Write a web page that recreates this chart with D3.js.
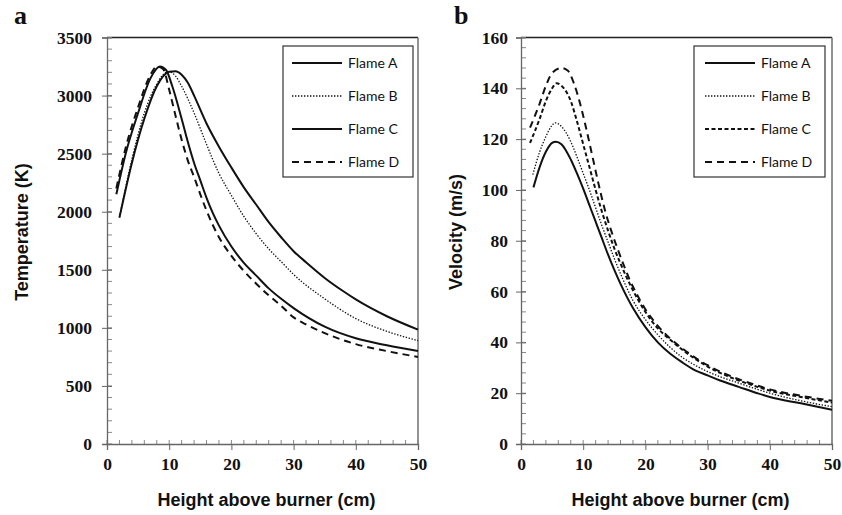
<!DOCTYPE html>
<html>
<head>
<meta charset="utf-8">
<script src="https://cdn.jsdelivr.net/npm/d3@7"></script>
<style>
  body { margin: 0; background: #fff; }
  .tick text { font-family: "Liberation Serif", "Times New Roman", serif; font-weight: bold; font-size: 17.5px; fill: #111; }
  .title { font-family: "Liberation Sans", Arial, sans-serif; font-weight: bold; font-size: 18px; fill: #111; }
  .legend text { font-family: Lato, "Open Sans", sans-serif; font-size: 14px; fill: #111; }
</style>
</head>
<body>
<script>
// Temperature panel (a)
var tempA = [[2,1950],[4,2420],[6,2800],[8,3080],[10,3205],[11,3210],[12,3180],[13,3110],[14,3000],[16,2760],[18,2560],[20,2380],[22,2210],[24,2060],[26,1910],[28,1780],[30,1660],[32,1565],[35,1430],[38,1315],[40,1245],[45,1100],[50,985]];
var tempB = [[2,1950],[4,2450],[6,2850],[8,3100],[9.5,3200],[10,3205],[11,3170],[12,3080],[14,2850],[16,2580],[18,2330],[20,2140],[22,1960],[24,1810],[26,1680],[28,1570],[30,1460],[35,1250],[40,1080],[45,970],[50,890]];
var tempC = [[1.5,2150],[3,2500],[5,2850],[7,3150],[8.5,3250],[9.5,3220],[10.5,3080],[12,2800],[13,2600],[14,2420],[15,2270],[16,2120],[17,1990],[18,1880],[20,1700],[22,1560],[24,1450],[26,1340],[28,1250],[30,1170],[35,1010],[40,910],[45,850],[50,800]];
var tempD = [[1.5,2200],[3,2550],[5,2900],[7,3180],[8,3250],[9,3230],[10,3050],[11,2830],[12,2620],[13,2440],[14,2300],[15,2150],[16,2010],[18,1780],[20,1620],[22,1490],[24,1380],[26,1280],[28,1190],[30,1090],[32,1030],[35,955],[40,860],[45,800],[50,750]];

// Velocity panel (b)
var velA = [[2,101],[3,109],[4,115],[5,118.5],[5.6,119],[6.5,118],[8,112],[9,106.5],[10,100.5],[11,94],[12,87.5],[13,81],[14,74.5],[15,68.5],[16,63],[17,58],[18,53.5],[20,46],[22,40],[24,35.5],[26,32],[28,29],[30,27],[32,25],[35,22.5],[38,20],[40,18.5],[45,16],[50,13.5]];
var velB = [[1.9,106],[3,115],[4,121],[5,125.5],[5.5,126.4],[6.5,125],[8,119],[9,113],[10,106.5],[11,100],[12,93],[13,86],[14,79.5],[15,73],[16,67],[17,61.5],[18,56.5],[20,49],[22,43],[24,38],[26,34],[28,31],[30,28.5],[32,26.5],[35,24],[38,21.5],[40,20],[45,17],[50,14.7]];
var velC = [[1.45,118.5],[3,128],[4,135],[5,140],[5.7,142],[6.5,141],[8,135],[9,127],[10,118],[11,109],[12,100],[13,91.5],[14,84],[15,77],[16,71],[17,65.5],[18,60.5],[20,52],[22,45.5],[24,41],[26,37],[28,33.5],[30,30.5],[32,28],[35,25],[38,22.5],[40,21],[45,18.5],[50,16.3]];
var velD = [[1.45,124.5],[3,134],[4,141],[5,146],[6.5,148],[7.5,147],[8.5,142],[9.5,134],[10.5,124],[11.5,113],[12.5,102],[13.5,92],[14.5,84],[15.5,77],[16.5,70.5],[17.5,64.5],[18.5,59.5],[20,53],[22,46.5],[24,41.5],[26,37.5],[28,34],[30,31],[32,28.5],[35,25.5],[38,23],[40,21.5],[45,19],[50,17]];

var flameNames = ["Flame A", "Flame B", "Flame C", "Flame D"];
var xTicks = [0, 10, 20, 30, 40, 50];
var tempTicks = [0, 500, 1000, 1500, 2000, 2500, 3000, 3500];
var velTicks = [0, 20, 40, 60, 80, 100, 120, 140, 160];

var styles = {
  solid: {dash: null, width: 2},
  dotted: {dash: "1.4,1.6", width: 1.3},
  short: {dash: "4,2.5", width: 2},
  long: {dash: "7,5", width: 2}
};

var width = 842, height = 515;
var svg = d3.select("body").append("svg")
  .attr("width", width)
  .attr("height", height);

function panel(opts) {
  var x = d3.scaleLinear().domain([0, 50]).range([opts.left, opts.right]);
  var y = d3.scaleLinear().domain([0, opts.yMax]).range([444, 37.5]);
  var g = svg.append("g");

  // frame (top + right)
  g.append("line").attr("x1", opts.left).attr("x2", opts.right)
    .attr("y1", y(opts.yMax)).attr("y2", y(opts.yMax))
    .attr("stroke", "#222").attr("stroke-width", 1.6);
  g.append("line").attr("x1", opts.right).attr("x2", opts.right)
    .attr("y1", y(opts.yMax)).attr("y2", y(0))
    .attr("stroke", "#777").attr("stroke-width", 1.6);

  // minor ticks (inside)
  var yMinor = d3.range(0, opts.yMax + 1e-9, opts.yMinor);
  g.selectAll(".ymin").data(yMinor).join("line")
    .attr("x1", opts.left).attr("x2", opts.left + 5)
    .attr("y1", d => y(d)).attr("y2", d => y(d))
    .attr("stroke", "#888").attr("stroke-width", 1);
  var xMinor = d3.range(0, 50.001, 2);
  g.selectAll(".xmin").data(xMinor).join("line")
    .attr("x1", d => x(d)).attr("x2", d => x(d))
    .attr("y1", y(0)).attr("y2", y(0) - 4)
    .attr("stroke", "#888").attr("stroke-width", 1);

  // axes
  var yAxis = g.append("g").attr("transform", "translate(" + opts.left + ",0)")
    .call(d3.axisLeft(y).tickValues(opts.yTicks).tickSize(5).tickPadding(opts.yPad).tickFormat(d3.format("d")));
  yAxis.selectAll(".tick line").attr("x2", -5).attr("x1", 5).attr("stroke", "#666");
  yAxis.select(".domain").attr("stroke", "#666").attr("stroke-width", 1.3);

  var xAxis = g.append("g").attr("transform", "translate(0," + y(0) + ")")
    .call(d3.axisBottom(x).tickValues(xTicks).tickSize(6).tickPadding(8).tickFormat(d3.format("d")));
  xAxis.selectAll(".tick line").attr("stroke", "#666");
  xAxis.select(".domain").attr("stroke", "#666").attr("stroke-width", 1.3);

  // curves
  var line = d3.line().x(d => x(d[0])).y(d => y(d[1])).curve(d3.curveMonotoneX);
  opts.series.forEach((s, i) => {
    var st = styles[opts.styles[i]];
    g.append("path").datum(s)
      .attr("d", line)
      .attr("fill", "none")
      .attr("stroke", "#111")
      .attr("stroke-width", st.width)
      .attr("stroke-dasharray", st.dash);
  });

  // axis titles
  g.append("text").attr("class", "title")
    .attr("transform", "translate(" + opts.yTitleX + ",232) rotate(-90)")
    .attr("text-anchor", "middle").text(opts.yTitle);
  g.append("text").attr("class", "title")
    .attr("x", (opts.left + opts.right) / 2 + 4).attr("y", 506)
    .attr("text-anchor", "middle").text("Height above burner (cm)");

  // panel label
  g.append("text")
    .attr("x", opts.labelX).attr("y", 24)
    .attr("font-family", "Liberation Serif, serif").attr("font-weight", "bold")
    .attr("font-size", 26).attr("fill", "#111")
    .text(opts.label);

  // legend
  var lg = g.append("g").attr("class", "legend");
  lg.append("rect")
    .attr("x", opts.legX).attr("y", 46).attr("width", opts.legW).attr("height", 131)
    .attr("fill", "#fff").attr("stroke", "#333").attr("stroke-width", 1.2);
  flameNames.forEach((n, i) => {
    var st = styles[opts.styles[i]];
    var yy = 63 + i * 33;
    lg.append("line")
      .attr("x1", opts.legX + opts.lineOff).attr("x2", opts.legX + opts.lineOff + 50)
      .attr("y1", yy).attr("y2", yy)
      .attr("stroke", "#111").attr("stroke-width", st.width)
      .attr("stroke-dasharray", st.dash);
    lg.append("text")
      .attr("x", opts.legX + opts.lineOff + 56).attr("y", yy + 5)
      .text(n);
  });
}

panel({
  left: 107, right: 418, yMax: 3500, yMinor: 100, yTicks: tempTicks, yPad: 10,
  series: [tempA, tempB, tempC, tempD],
  styles: ["solid", "dotted", "solid", "long"],
  yTitle: "Temperature (K)", yTitleX: 28, label: "a", labelX: 14,
  legX: 283, legW: 130, lineOff: 9
});

panel({
  left: 521, right: 832, yMax: 160, yMinor: 4, yTicks: velTicks, yPad: 8,
  series: [velA, velB, velC, velD],
  styles: ["solid", "dotted", "short", "long"],
  yTitle: "Velocity (m/s)", yTitleX: 462, label: "b", labelX: 454,
  legX: 694, legW: 131, lineOff: 11
});
</script>
</body>
</html>
